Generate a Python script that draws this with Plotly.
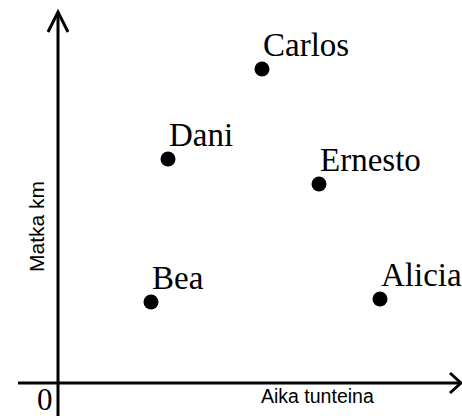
import plotly.graph_objects as go

# people: time (hours) vs distance (km)
names = ["Alicia", "Bea", "Carlos", "Dani", "Ernesto"]
hours = [32.2, 9.3, 20.4, 11.0, 26.1]
km = [8.4, 8.1, 31.4, 22.4, 19.9]

x_title = "Aika tunteina"
y_title = "Matka km"

fig = go.Figure()

fig.add_trace(go.Scatter(
    x=hours, y=km, mode="markers",
    marker=dict(color="black", size=15),
    hoverinfo="skip", showlegend=False,
))

# name labels next to the dots
for n, xv, yv in zip(names, hours, km):
    fig.add_annotation(
        x=xv, y=yv, text=n, showarrow=False,
        xanchor="left", yanchor="middle", xshift=-1, yshift=24,
        font=dict(family="Liberation Serif", size=33, color="black"),
    )

line = dict(color="black", width=3)
# axes drawn by hand, with open arrow heads
fig.add_shape(type="line", x0=-4.0, y0=0, x1=40.3, y1=0, line=line)
fig.add_shape(type="line", x0=0, y0=-3.5, x1=0, y1=37.1, line=line)
fig.add_shape(type="path", path="M -1.0 35.1 L 0 37.1 L 1.0 35.1", line=line)
fig.add_shape(type="path", path="M 39.2 1.0 L 40.3 0 L 39.2 -1.0", line=line)

fig.add_annotation(x=-1.3, y=-1.6, text="0", showarrow=False,
                   font=dict(family="Liberation Serif", size=31, color="black"))
fig.add_annotation(x=25.9, y=-1.3, text=x_title, showarrow=False,
                   font=dict(family="Liberation Sans", size=19.5, color="black"))
fig.add_annotation(x=-2.2, y=15.6, text=y_title, showarrow=False, textangle=-90,
                   font=dict(family="Liberation Sans", size=21, color="black"))

fig.update_xaxes(range=[-5.8, 40.4], visible=False)
fig.update_yaxes(range=[-3.3, 38.3], visible=False)
fig.update_layout(
    width=462, height=416,
    margin=dict(l=0, r=0, t=0, b=0),
    plot_bgcolor="white", paper_bgcolor="white",
)

# drop the page's default body margin so the figure fills the window
fig.write_html("out.html", config={"displayModeBar": False},
               post_script="document.body.style.margin='0px';")
